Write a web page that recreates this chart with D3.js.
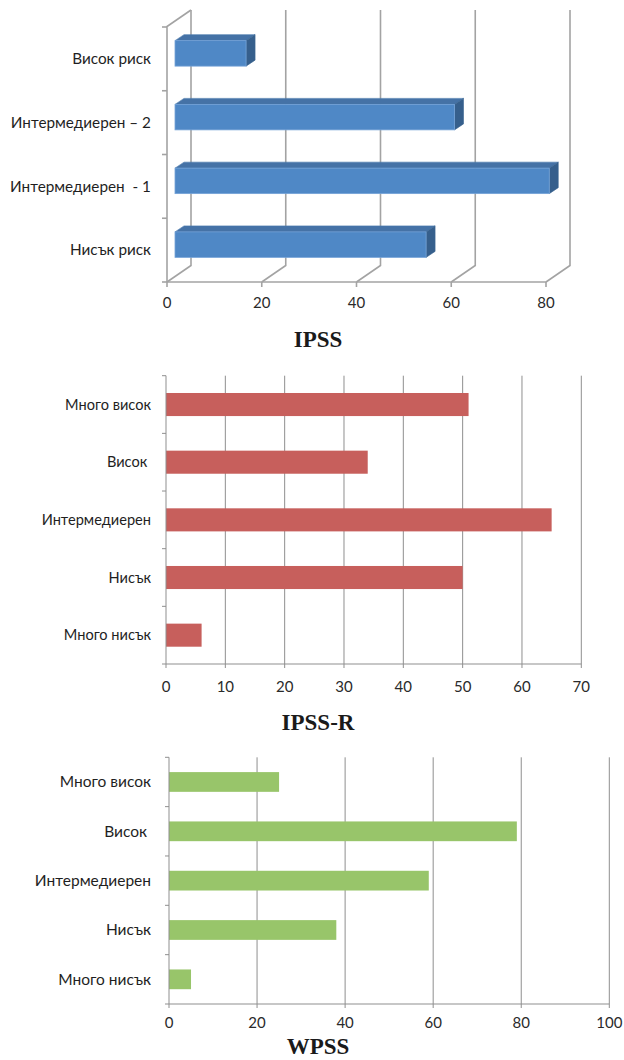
<!DOCTYPE html>
<html>
<head>
<meta charset="utf-8">
<script src="https://cdn.jsdelivr.net/npm/d3@7/dist/d3.min.js"></script>
<style>
  html, body { margin: 0; padding: 0; background: #fff; }
  svg { display: block; }
  text { white-space: pre; }
</style>
</head>
<body>
<svg id="chart" width="624" height="1060"></svg>
<script>
// IPSS risk groups (3D bar chart)
const ipssCategories = ["Висок риск", "Интермедиерен – 2", "Интермедиерен  - 1", "Нисък риск"];
const ipssValues = [15, 59, 79, 53];
const ipssTicks = [0, 20, 40, 60, 80];

// IPSS-R risk groups
const ipssrCategories = ["Много висок", "Висок ", "Интермедиерен", "Нисък", "Много нисък"];
const ipssrValues = [51, 34, 65, 50, 6];
const ipssrTicks = [0, 10, 20, 30, 40, 50, 60, 70];

// WPSS risk groups
const wpssCategories = ["Много висок", "Висок ", "Интермедиерен", "Нисък", "Много нисък"];
const wpssValues = [25, 79, 59, 38, 5];
const wpssTicks = [0, 20, 40, 60, 80, 100];

const titles = ["IPSS", "IPSS-R", "WPSS"];

const svg = d3.select("#chart");
const labelFont = "Lato, 'Open Sans', sans-serif";
const titleFont = "'Liberation Serif', 'Times New Roman', serif";
const textColor = "#1f1f1f";
const gridColor = "#8f8f8f";

function categoryLabels(g, y, cats, xRight, size) {
  g.selectAll("text.cat").data(cats).join("text")
    .attr("class", "cat")
    .attr("x", xRight)
    .attr("y", d => y(d) + y.bandwidth() / 2)
    .attr("dy", "0.35em")
    .attr("text-anchor", "end")
    .attr("font-family", labelFont)
    .attr("font-size", size)
    .attr("fill", textColor)
    .text(d => d);
}

function tickLabels(g, x, ticks, yc) {
  g.selectAll("text.tick").data(ticks).join("text")
    .attr("class", "tick")
    .attr("x", d => x(d))
    .attr("y", yc)
    .attr("dy", "0.35em")
    .attr("text-anchor", "middle")
    .attr("font-family", labelFont)
    .attr("font-size", 15)
    .attr("fill", "#2a2a2a")
    .text(d => d);
}

function title(g, text, cx, baseline) {
  g.append("text")
    .attr("x", cx)
    .attr("y", baseline)
    .attr("text-anchor", "middle")
    .attr("font-family", titleFont)
    .attr("font-weight", "bold")
    .attr("font-size", 23)
    .attr("fill", "#1a1a1a")
    .text(text);
}

// ---------- 3D chart: IPSS ----------
(function () {
  const g = svg.append("g");
  const x = d3.scaleLinear().domain([0, 80]).range([167, 546]);
  const y = d3.scaleBand().domain(ipssCategories).range([27, 282]).paddingInner(0).paddingOuter(0);
  const DX = 24, DY = -16.5;       // depth of the floor / side wall
  const yFloor = 282, yTopBack = 10;
  const wallStroke = "#a3a3a3";

  // back wall gridlines + floor diagonals
  ipssTicks.forEach(t => {
    g.append("polyline")
      .attr("points", [[x(t) + DX, yTopBack], [x(t) + DX, yFloor + DY], [x(t), yFloor]].map(p => p.join(",")).join(" "))
      .attr("fill", "none").attr("stroke", wallStroke).attr("stroke-width", 1.6);
  });
  // left wall front edge
  g.append("polyline")
    .attr("points", [[x(0) + DX, yTopBack], [x(0), yTopBack - DY], [x(0), yFloor]].map(p => p.join(",")).join(" "))
    .attr("fill", "none").attr("stroke", wallStroke).attr("stroke-width", 1.6);
  // front floor edge
  g.append("line")
    .attr("x1", x(0)).attr("x2", x(80)).attr("y1", yFloor).attr("y2", yFloor)
    .attr("stroke", wallStroke).attr("stroke-width", 1.6);
  // tick marks
  ipssTicks.forEach(t => {
    g.append("line").attr("x1", x(t)).attr("x2", x(t)).attr("y1", yFloor).attr("y2", yFloor + 5)
      .attr("stroke", wallStroke).attr("stroke-width", 1.6);
  });
  const bounds = ipssCategories.map(c => y(c)).concat([yFloor]);
  bounds.forEach(b => {
    g.append("line").attr("x1", x(0) - 5).attr("x2", x(0)).attr("y1", b).attr("y2", b)
      .attr("stroke", wallStroke).attr("stroke-width", 1.6);
  });

  // bars
  const f = 1 / 3;                        // bar front sits a third into the depth
  const bx = DX * f, by = DY * f;
  const ddx = 9, ddy = -6;               // bar thickness in depth
  const h = y.bandwidth() * 0.4;
  ipssCategories.forEach((c, i) => {
    const v = ipssValues[i];
    const x0 = x(0) + bx, x1 = x(v) + bx;
    const yc = y(c) + y.bandwidth() / 2 + by;
    const yt = yc - h / 2, yb = yc + h / 2;
    g.append("polygon")
      .attr("points", [[x0, yt], [x1, yt], [x1 + ddx, yt + ddy], [x0 + ddx, yt + ddy]].map(p => p.join(",")).join(" "))
      .attr("fill", "#4572a6").attr("stroke", "#4a78ad").attr("stroke-width", 0.6);
    g.append("polygon")
      .attr("points", [[x1, yt], [x1 + ddx, yt + ddy], [x1 + ddx, yb + ddy], [x1, yb]].map(p => p.join(",")).join(" "))
      .attr("fill", "#365f8c").attr("stroke", "#3a6591").attr("stroke-width", 0.6);
    g.append("rect")
      .attr("x", x0).attr("y", yt).attr("width", x1 - x0).attr("height", h)
      .attr("fill", "#4f88c6").attr("stroke", "#75a3d8").attr("stroke-width", 0.8);
  });

  categoryLabels(g, y, ipssCategories, 151, 15.3);
  tickLabels(g, x, ipssTicks, 303);
  title(g, titles[0], 318, 347);
})();

// ---------- flat bar charts ----------
function flatChart(cats, vals, ticks, xRange, yRange, color, tickY, ttl, titleBase, labelSize) {
  const g = svg.append("g");
  const x = d3.scaleLinear().domain([0, ticks[ticks.length - 1]]).range(xRange);
  const y = d3.scaleBand().domain(cats).range(yRange);
  const yBottom = yRange[1];

  // vertical gridlines
  g.selectAll("line.grid").data(ticks.slice(1)).join("line")
    .attr("class", "grid")
    .attr("x1", d => x(d)).attr("x2", d => x(d))
    .attr("y1", yRange[0]).attr("y2", yBottom)
    .attr("stroke", gridColor).attr("stroke-width", 1);

  // bars
  const h = y.bandwidth() * 0.4;
  g.selectAll("rect.bar").data(cats).join("rect")
    .attr("class", "bar")
    .attr("x", x(0))
    .attr("y", d => y(d) + (y.bandwidth() - h) / 2)
    .attr("width", (d, i) => x(vals[i]) - x(0))
    .attr("height", h)
    .attr("fill", color);

  // axes
  g.append("line").attr("x1", x(0)).attr("x2", x(0)).attr("y1", yRange[0]).attr("y2", yBottom)
    .attr("stroke", gridColor).attr("stroke-width", 1);
  g.append("line").attr("x1", x(0) - 4).attr("x2", xRange[1]).attr("y1", yBottom).attr("y2", yBottom)
    .attr("stroke", gridColor).attr("stroke-width", 1);
  cats.forEach(c => {
    g.append("line").attr("x1", x(0) - 4).attr("x2", x(0)).attr("y1", y(c)).attr("y2", y(c))
      .attr("stroke", gridColor).attr("stroke-width", 1);
  });
  ticks.forEach(t => {
    g.append("line").attr("x1", x(t)).attr("x2", x(t)).attr("y1", yBottom).attr("y2", yBottom + 4)
      .attr("stroke", gridColor).attr("stroke-width", 1);
  });

  categoryLabels(g, y, cats, 151, labelSize);
  tickLabels(g, x, ticks, tickY);
  title(g, ttl, 318, titleBase);
}

flatChart(ipssrCategories, ipssrValues, ipssrTicks, [166, 581.3], [375.7, 664], "#c75f5c", 687, titles[1], 730, 14.6);
flatChart(wpssCategories, wpssValues, wpssTicks, [169, 609.3], [757.3, 1004], "#98c56a", 1023, titles[2], 1054, 15.5);
</script>
</body>
</html>
